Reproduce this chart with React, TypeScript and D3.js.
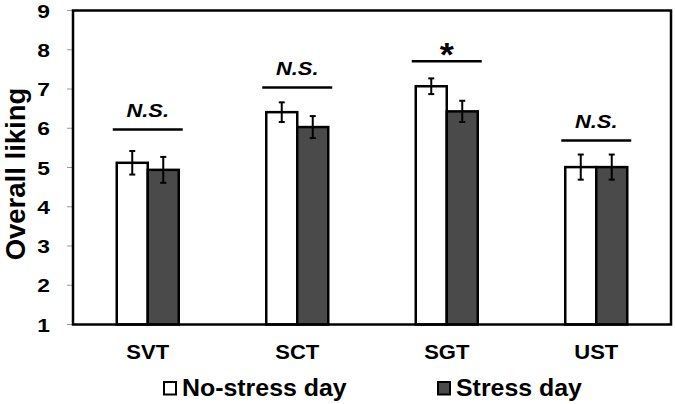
import React from "react";
import * as d3 from "d3";

const categories = ["SVT", "SCT", "SGT", "UST"];
const seriesNames = ["No-stress day", "Stress day"];
const noStress = [5.12, 6.41, 7.07, 5.01];
const noStressErr = [0.3, 0.25, 0.2, 0.32];
const stress = [4.94, 6.03, 6.43, 5.01];
const stressErr = [0.33, 0.28, 0.27, 0.32];
const sigLabels = ["N.S.", "N.S.", "*", "N.S."];
const sigLevels = [5.97, 7.04, 7.71, 5.69];
const yTicks = [1, 2, 3, 4, 5, 6, 7, 8, 9];

const W = 675;
const H = 404;
const M = { left: 73, right: 671, top: 10.5, bottom: 324.5 };
const FONT = "'Liberation Sans', Arial, sans-serif";
const DARK = "#4a4a4a";

function SText(props: { x: number; y: number; sx: number; size: number; anchor?: string; italic?: boolean; children: React.ReactNode }) {
  return (
    <text
      transform={`translate(${props.x},${props.y}) scale(${props.sx},1)`}
      textAnchor={props.anchor || "start"}
      fontSize={props.size}
      fontWeight="bold"
      fontStyle={props.italic ? "italic" : "normal"}
      fill="#000"
    >
      {props.children}
    </text>
  );
}

export default function App() {
  const x0 = d3.scaleBand<string>().domain(categories).range([M.left, M.right]).padding(0);
  const x1 = d3.scaleBand<string>().domain(seriesNames).range([-31, 31]).padding(0);
  const y = d3.scaleLinear().domain([1, 9]).range([M.bottom, M.top]);
  const vals = [noStress, stress];
  const errs = [noStressErr, stressErr];
  const fills = ["#ffffff", DARK];

  return (
    <svg width={W} height={H} style={{ position: "absolute", left: 0, top: 0, background: "#fff" }} fontFamily={FONT}>
      {/* y ticks */}
      {yTicks.map((t) => (
        <g key={t}>
          <line x1={M.left - 6} x2={M.left} y1={y(t)} y2={y(t)} stroke="#999" strokeWidth={1} />
          <SText x={50} y={y(t) + 7} sx={1.2} size={19} anchor="end">
            {t}
          </SText>
        </g>
      ))}
      {/* bars */}
      {categories.map((c, i) => {
        const cx = (x0(c) as number) + x0.bandwidth() / 2;
        return (
          <g key={c}>
            {seriesNames.map((s, j) => {
              const bx = cx + (x1(s) as number);
              const bw = x1.bandwidth();
              const v = vals[j][i];
              const e = errs[j][i];
              const mx = bx + bw / 2;
              return (
                <g key={s}>
                  <rect x={bx} y={y(v)} width={bw} height={y(1) - y(v)} fill={fills[j]} stroke="#000" strokeWidth={2.5} />
                  <line x1={mx} x2={mx} y1={y(v + e)} y2={y(v - e)} stroke="#000" strokeWidth={2} />
                  <line x1={mx - 3} x2={mx + 3} y1={y(v + e)} y2={y(v + e)} stroke="#000" strokeWidth={2} />
                  <line x1={mx - 3} x2={mx + 3} y1={y(v - e)} y2={y(v - e)} stroke="#000" strokeWidth={2} />
                </g>
              );
            })}
            <line x1={cx - 35} x2={cx + 35} y1={y(sigLevels[i])} y2={y(sigLevels[i])} stroke="#000" strokeWidth={2.5} />
            {sigLabels[i] === "*" ? (
              <SText x={cx} y={y(sigLevels[i]) + 5} sx={1.1} size={33} anchor="middle">
                *
              </SText>
            ) : (
              <SText x={cx} y={y(sigLevels[i]) - 12} sx={1.15} size={19} anchor="middle" italic>
                {sigLabels[i]}
              </SText>
            )}
            <SText x={cx} y={359} sx={1.1} size={20} anchor="middle">
              {c}
            </SText>
          </g>
        );
      })}
      {/* frame */}
      <rect x={M.left} y={M.top} width={M.right - M.left} height={M.bottom - M.top} fill="none" stroke="#000" strokeWidth={2.5} />
      {/* y title */}
      <text transform={`translate(25,174) rotate(-90)`} textAnchor="middle" fontSize={27.5} fontWeight="bold" fill="#000">
        Overall liking
      </text>
      {/* legend */}
      <rect x={164} y={382} width={12} height={12.5} fill="#fff" stroke="#000" strokeWidth={2} />
      <SText x={182} y={396} sx={1.06} size={23.5}>
        {seriesNames[0]}
      </SText>
      <rect x={438} y={382} width={12} height={12.5} fill={DARK} stroke="#000" strokeWidth={2} />
      <SText x={456} y={396} sx={1.06} size={23.5}>
        {seriesNames[1]}
      </SText>
    </svg>
  );
}
